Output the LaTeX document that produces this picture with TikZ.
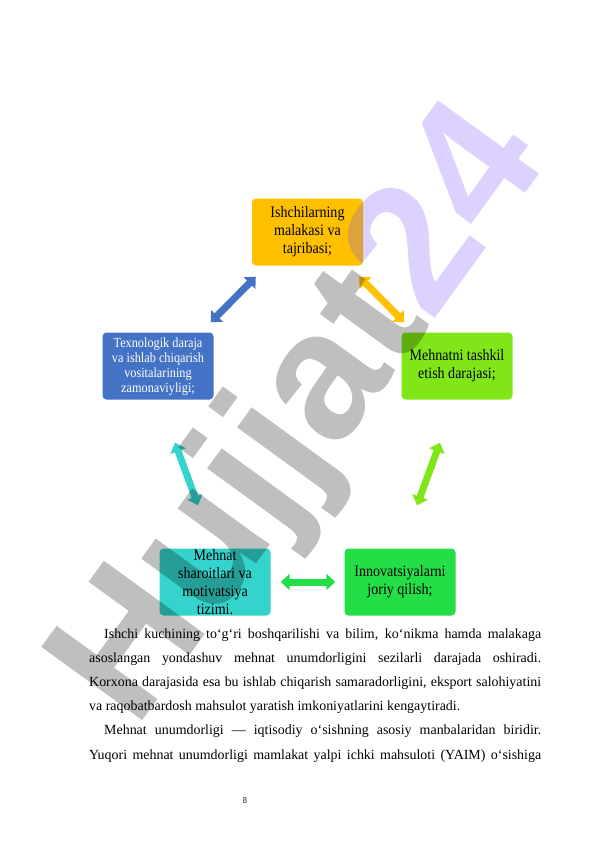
\documentclass[tikz,border=0pt]{standalone}
\usepackage{fontspec}
\setmainfont{Liberation Serif}
\newfontfamily\boxfont[FakeStretch=0.88]{Liberation Serif}
\newfontfamily\markfont{Liberation Sans}
\newfontfamily\numfont{Carlito}
\usetikzlibrary{arrows.meta}
\definecolor{cOrange}{RGB}{255,192,0}
\definecolor{cBlue}{RGB}{68,114,196}
\definecolor{cLime}{RGB}{128,230,24}
\definecolor{cGreen}{RGB}{36,222,72}
\definecolor{cTeal}{RGB}{52,212,204}
\definecolor{cMarkLav}{RGB}{120,74,255}
\newcommand{\boxlines}[1]{\raisebox{-4bp}[0pt][0pt]{\parbox[c]{106bp}{\centering #1}}}

\begin{document}
\begin{tikzpicture}[x=1bp, y=-1bp,
    box/.style={rounded corners=4bp, minimum width=111bp, minimum height=67bp, inner sep=0pt,
      font=\boxfont\fontsize{16}{18.5}\selectfont},
    link/.style={line width=7bp, {Triangle[width=16bp,length=9bp]}-{Triangle[width=16bp,length=9bp]}}]
  \useasboundingbox[fill=white] (0,0) rectangle (596,842);

  \node[box, fill=cOrange] (skill) at (307.5,232) {\boxlines{Ishchilarning\\malakasi va\\tajribasi;}};
  \node[box, fill=cBlue, text=white, font=\boxfont\fontsize{14}{15}\selectfont] (tech) at (158,366) {\boxlines{Texnologik daraja\\va ishlab chiqarish\\vositalarining\\zamonaviyligi;}};
  \node[box, fill=cLime] (org) at (457,366) {\boxlines{Mehnatni tashkil\\etish darajasi;}};
  \node[box, fill=cTeal, font=\boxfont\fontsize{16}{18}\selectfont] (cond) at (215,582) {\boxlines{Mehnat\\sharoitlari va\\motivatsiya\\tizimi.}};
  \node[box, fill=cGreen] (inno) at (400,582) {\boxlines{Innovatsiyalarni\\joriy qilish;}};

  \draw[link, cBlue] ([shift={(4,11)}]skill.south west) -- ([shift={(-3,-10)}]tech.north east);
  \draw[link, cOrange] ([shift={(-4,11)}]skill.south east) -- ([shift={(3,-10)}]org.north west);
  \draw[link, cLime] ([shift={(-17,43)}]org.south) -- ([shift={(17,-43)}]inno.north);
  \draw[link, cTeal] ([shift={(17,43)}]tech.south) -- ([shift={(-17,-43)}]cond.north);
  \draw[link, cGreen, shorten <=10bp, shorten >=9bp] (cond) -- (inno);

  \node[anchor=base west, inner sep=0pt] (text) at (89,638.5) {\parbox[t]{452bp}{%
    \fontsize{14}{24.2}\selectfont\hyphenpenalty=10000\parindent=15bp
    \indent Ishchi kuchining to‘g‘ri boshqarilishi va bilim, ko‘nikma hamda malakaga\linebreak
    asoslangan yondashuv mehnat unumdorligini sezilarli darajada oshiradi.\linebreak
    Korxona darajasida esa bu ishlab chiqarish samaradorligini, eksport salohiyatini\linebreak
    va raqobatbardosh mahsulot yaratish imkoniyatlarini kengaytiradi.\par
    \indent Mehnat unumdorligi — iqtisodiy o‘sishning asosiy manbalaridan biridir.\linebreak
    Yuqori mehnat unumdorligi mamlakat yalpi ichki mahsuloti (YAIM) o‘sishiga{\parfillskip=0pt\par}}};

  \node[font=\numfont\fontsize{9}{10}\selectfont, text=black!80] (page) at (245,800) {8};

  % watermark
  \node[rotate=54, text opacity=0.25, font=\markfont\bfseries\fontsize{182}{182}\selectfont] (mark) at (305,418) {{\color{black}Hujjat}{\color{cMarkLav}24}};
\end{tikzpicture}
\end{document}
